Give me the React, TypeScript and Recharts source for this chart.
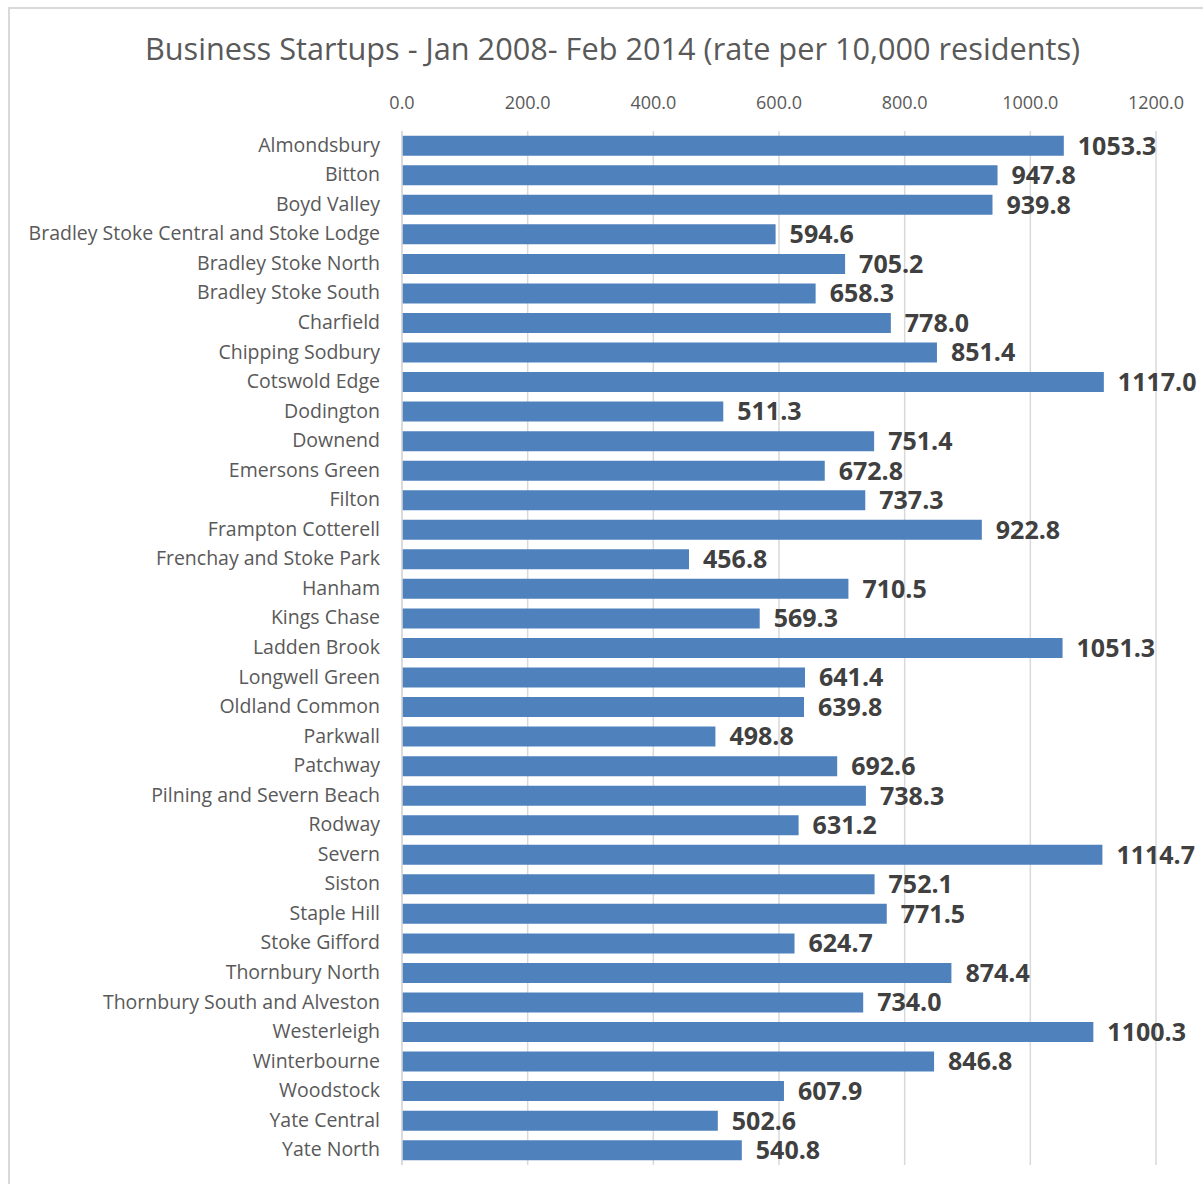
import React from "react";
import { BarChart, Bar, XAxis, YAxis, CartesianGrid, LabelList } from "recharts";

const wards: string[] = [
  "Almondsbury",
  "Bitton",
  "Boyd Valley",
  "Bradley Stoke Central and Stoke Lodge",
  "Bradley Stoke North",
  "Bradley Stoke South",
  "Charfield",
  "Chipping Sodbury",
  "Cotswold Edge",
  "Dodington",
  "Downend",
  "Emersons Green",
  "Filton",
  "Frampton Cotterell",
  "Frenchay and Stoke Park",
  "Hanham",
  "Kings Chase",
  "Ladden Brook",
  "Longwell Green",
  "Oldland Common",
  "Parkwall",
  "Patchway",
  "Pilning and Severn Beach",
  "Rodway",
  "Severn",
  "Siston",
  "Staple Hill",
  "Stoke Gifford",
  "Thornbury North",
  "Thornbury South and Alveston",
  "Westerleigh",
  "Winterbourne",
  "Woodstock",
  "Yate Central",
  "Yate North",
];

const rates: number[] = [
  1053.3, 947.8, 939.8, 594.6, 705.2, 658.3, 778.0, 851.4, 1117.0, 511.3,
  751.4, 672.8, 737.3, 922.8, 456.8, 710.5, 569.3, 1051.3, 641.4, 639.8,
  498.8, 692.6, 738.3, 631.2, 1114.7, 752.1, 771.5, 624.7, 874.4, 734.0,
  1100.3, 846.8, 607.9, 502.6, 540.8,
];

const xTicks: number[] = [0, 200, 400, 600, 800, 1000, 1200];

const data = wards.map((w, i) => ({ ward: w, rate: rates[i] }));

const FONT = "'Open Sans', sans-serif";

const CategoryTick = (props: any) => {
  const { y, payload } = props;
  return (
    <text
      x={380}
      y={y}
      dy={6}
      textAnchor="end"
      fontFamily={FONT}
      fontSize={19.5}
      fill="#595959"
    >
      {payload.value}
    </text>
  );
};

export default function App() {
  return (
    <div
      style={{
        position: "absolute",
        left: 0,
        top: 0,
        width: 1203,
        height: 1184,
        overflow: "hidden",
        background: "#fff",
      }}
    >
      <div
        style={{
          position: "absolute",
          left: 8,
          top: 7,
          width: 1250,
          height: 1250,
          border: "2px solid #d9d9d9",
          boxSizing: "border-box",
        }}
      />
      <div
        style={{
          position: "absolute",
          left: 0,
          top: 28,
          width: 1225,
          textAlign: "center",
          fontFamily: FONT,
          fontSize: 30.7,
          color: "#595959",
          lineHeight: "40px",
        }}
      >
        Business Startups - Jan 2008- Feb 2014 (rate per 10,000 residents)
      </div>
      <div style={{ position: "absolute", left: 0, top: 0 }}>
        <BarChart
          width={1203}
          height={1184}
          data={data}
          layout="vertical"
          margin={{ top: 91, right: 47, bottom: 19, left: 0 }}
          barCategoryGap="16%"
        >
          <CartesianGrid horizontal={false} stroke="#d9d9d9" strokeWidth={1.5} />
          <XAxis
            type="number"
            orientation="top"
            domain={[0, 1200]}
            ticks={xTicks}
            tickFormatter={(v: number) => v.toFixed(1)}
            axisLine={false}
            tickLine={false}
            tickMargin={16}
            height={40}
            tick={{ fontFamily: FONT, fontSize: 18, fill: "#595959" }}
            interval={0}
          />
          <YAxis
            type="category"
            dataKey="ward"
            width={402}
            axisLine={{ stroke: "#d9d9d9", strokeWidth: 1.5 }}
            tickLine={false}
            tick={<CategoryTick />}
            interval={0}
          />
          <Bar dataKey="rate" fill="#4f81bd" isAnimationActive={false}>
            <LabelList
              dataKey="rate"
              position="right"
              offset={14}
              formatter={(v: any) => Number(v).toFixed(1)}
              style={{
                fontFamily: FONT,
                fontSize: 25,
                fontWeight: 700,
                fill: "#404040",
              }}
            />
          </Bar>
        </BarChart>
      </div>
    </div>
  );
}
